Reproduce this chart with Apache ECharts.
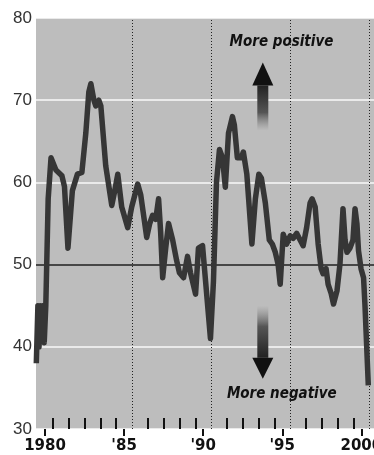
<!DOCTYPE html>
<html>
<head>
<meta charset="utf-8">
<script src="https://cdn.jsdelivr.net/npm/echarts@6/dist/echarts.min.js"></script>
<style>
html,body{margin:0;padding:0;background:#fff;}
#c{width:374px;height:455px;}
</style>
</head>
<body>
<div id="c"></div>
<script>
// ---- data (decimal year, index value) ----
var years = [1979.45,1979.55,1979.62,1979.7,1979.78,1979.85,1979.95,1980.05,1980.2,1980.38,
  1980.69,1981.07,1981.23,1981.45,1981.73,1982.05,1982.33,1982.58,1982.77,1982.9,
  1983.09,1983.21,1983.4,1983.53,1983.84,1984.22,1984.41,1984.6,1984.85,1985.23,
  1985.48,1985.86,1986.05,1986.43,1986.62,1986.8,1987.0,1987.18,1987.31,1987.44,
  1987.63,1987.81,1988.07,1988.32,1988.5,1988.76,1989.01,1989.2,1989.52,1989.7,
  1989.96,1990.15,1990.46,1990.65,1990.84,1991.03,1991.22,1991.4,1991.6,1991.85,
  1991.97,1992.16,1992.41,1992.54,1992.76,1993.08,1993.3,1993.52,1993.68,1993.93,
  1994.18,1994.37,1994.56,1994.74,1994.87,1995.06,1995.28,1995.5,1995.69,1995.91,
  1996.13,1996.32,1996.54,1996.76,1996.89,1997.08,1997.27,1997.46,1997.58,1997.77,
  1997.9,1998.09,1998.24,1998.46,1998.65,1998.84,1998.97,1999.09,1999.28,1999.47,
  1999.6,1999.72,1999.82,1999.98,2000.14,2000.23,2000.44];
var values = [38,45,40,45,41,45,40.5,45,58,63,
  61.5,60.8,59.5,52,59,61,61.2,66,71,72,
  70,69.3,70,69.3,62,57.2,59,61,57,54.5,
  57,59.8,58.5,53.3,55,56,55.5,58,54,48.4,
  52,55,53,50.5,49,48.4,51,49,46.4,52,
  52.3,48,41,48,60,64,63,59.4,66,68,
  67,63,63,63.7,61,52.5,58,61,60.5,57.5,
  53,52.5,51.5,50,47.6,53.7,52.5,53.5,53.2,53.8,
  53,52.3,54.5,57.5,58,57,52.5,49.5,48.9,49.5,
  47.6,46.5,45.2,46.8,50.1,56.8,53,51.5,52,53,
  56.8,55,51.7,49.5,48.4,45,35.3];

var xLabelValues = [1980,1985,1990,1995,2000];
var xLabelTexts = ['1980',"'85","'90","'95",'2000'];
var minorTickValues = [1980.5,1981.5,1982.5,1983.5,1984.5,1986.5,1987.5,1988.5,1989.5,
  1991.5,1992.5,1993.5,1994.5,1996.5,1997.5,1998.5,1999.5];
var dottedLineValues = [1985.5,1990.5,1995.5,2000.5];
var yTicks = [30,40,50,60,70,80];
var labelPositive = 'More positive';
var labelNegative = 'More negative';

var seriesData = years.map(function(y,i){return [y, values[i]];});

var chart = echarts.init(document.getElementById('c'), null, {renderer:'canvas'});
var XMIN = 1979.43, XMAX = 2000.8;
chart.setOption({
  animation:false,
  grid:{left:36,right:0,top:18,bottom:26,show:true,backgroundColor:'#bdbdbd',borderWidth:0,
    containLabel:false,outerBoundsMode:'none'},
  xAxis:[{
    type:'value',min:XMIN,max:XMAX,
    axisLine:{show:false},
    splitLine:{show:false},
    axisTick:{show:true,customValues:xLabelValues,length:7,inside:false,lineStyle:{color:'#111',width:2}},
    axisLabel:{show:true,customValues:xLabelValues,margin:10,hideOverlap:false,
      formatter:function(v){var i=xLabelValues.indexOf(Math.round(v));return i>=0?xLabelTexts[i]:'';},
      fontFamily:'DejaVu Sans',fontWeight:'bold',fontSize:15,color:'#111'}
  },{
    type:'value',min:XMIN,max:XMAX,position:'bottom',
    axisLine:{show:false},splitLine:{show:false},
    axisTick:{show:true,customValues:minorTickValues,length:11,inside:true,lineStyle:{color:'#111',width:2}},
    axisLabel:{show:false}
  }],
  yAxis:{
    type:'value',min:30,max:80,interval:10,
    axisLine:{show:false},axisTick:{show:false},
    splitLine:{show:true,lineStyle:{color:'rgba(255,255,255,0.9)',width:1.5}},
    axisLabel:{margin:4,fontFamily:'Liberation Sans',fontSize:17,color:'#333',
      formatter:function(v){return yTicks.indexOf(v)>=0?String(v):'';}}
  },
  series:[{
    type:'line',data:seriesData,showSymbol:false,symbol:'none',
    lineStyle:{color:'#363636',width:5.5,join:'round'},
    z:5,
    markLine:{silent:true,symbol:'none',label:{show:false},
      data:[{yAxis:50,lineStyle:{color:'#111',width:1.5,type:'solid'}}].concat(
        dottedLineValues.map(function(v){return {xAxis:v,lineStyle:{color:'#222',width:1,type:[1,2]}};})),
      z:3}
  }]
});

function px(x,y){return chart.convertToPixel({seriesIndex:0},[x,y]);}
function arrow(xc, tipY, baseY, endY, up){
  var t = px(xc, tipY), b = px(xc, baseY), e = px(xc, endY);
  var cx = t[0], hw = 10.5, sw = 5.5;
  var els = [];
  els.push({type:'polygon',shape:{points:[[cx,t[1]],[cx-hw,b[1]],[cx+hw,b[1]]]},style:{fill:'#111'},z:10});
  var y0 = Math.min(b[1],e[1]), h = Math.abs(e[1]-b[1]);
  els.push({type:'rect',shape:{x:cx-sw,y:y0,width:sw*2,height:h},
    style:{fill:new echarts.graphic.LinearGradient(0, up?0:1, 0, up?1:0,[{offset:0,color:'#222'},{offset:0.6,color:'#555'},{offset:1,color:'rgba(189,189,189,0.6)'}])},z:10});
  return els;
}
var tp = px(1994.95, 77.1), tn = px(1994.97, 34.3);
var textStyle = {fontFamily:"'Liberation Sans Narrow','DejaVu Sans Condensed',sans-serif",fontWeight:'bold',fontStyle:'italic',fontSize:15,fill:'#111',align:'center',verticalAlign:'middle'};
var g = [];
g = g.concat(arrow(1993.77, 74.6, 71.8, 66.3, true));
g = g.concat(arrow(1993.77, 36.1, 38.66, 45.0, false));
g.push({type:'text',x:tp[0],y:tp[1],style:Object.assign({text:labelPositive},textStyle),z:10});
g.push({type:'text',x:tn[0],y:tn[1],style:Object.assign({text:labelNegative},textStyle),z:10});
chart.setOption({graphic:g});
</script>
</body>
</html>
